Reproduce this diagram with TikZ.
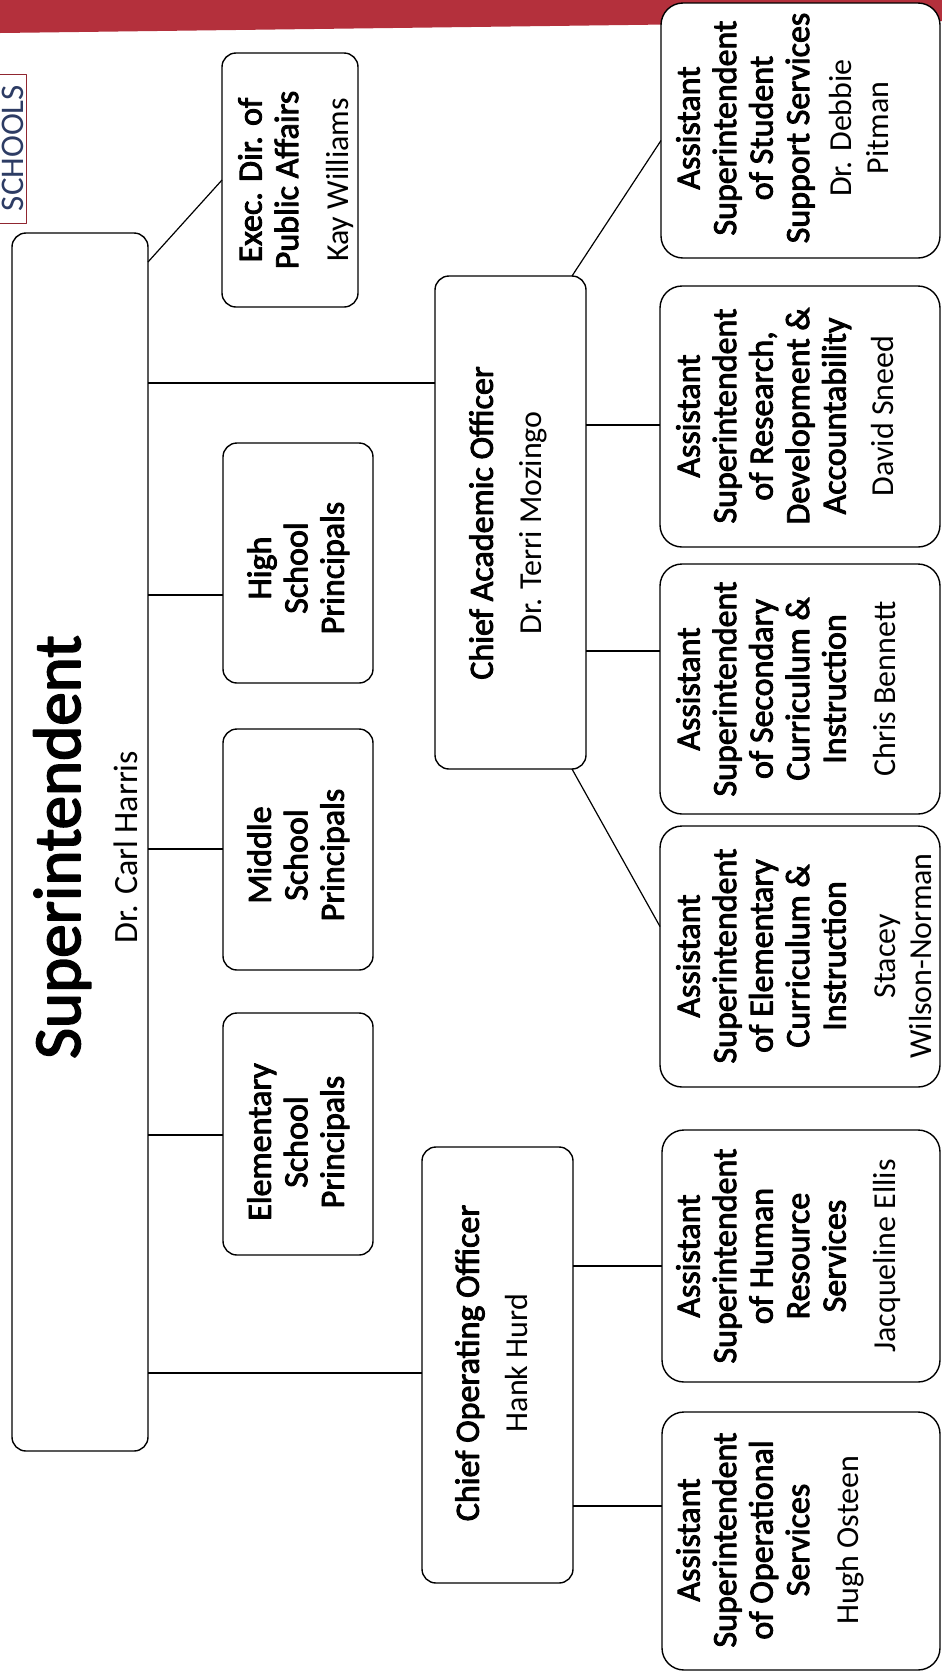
\documentclass[tikz,border=0pt]{standalone}
\usepackage{fontspec}
\setmainfont{Carlito}
\newfontfamily\semib{Carlito}[FakeBold=2.6]
\usetikzlibrary{calc}
\definecolor{bandred}{RGB}{180,48,60}
\definecolor{schoolblue}{RGB}{45,60,100}
\newcommand\pname[1]{{\normalfont\fontsize{32}{36.5}\selectfont #1}}
\tikzset{
  box/.style={draw=black, line width=1.4pt, rounded corners=14pt, fill=white, inner sep=0pt, outer sep=0pt},
  asbox/.style={box, rounded corners=22pt},
  conn/.style={draw=black, line width=1.2pt},
  ttl/.style={rotate=90, align=center, inner sep=0pt, anchor=north, font=\semib\fontsize{34}{36.5}\selectfont},
}
\begin{document}
\begin{tikzpicture}[x=1pt, y=-1pt, line join=round]
\useasboundingbox (0,0) rectangle (942,1674);
\clip (0,0) rectangle (942,1674);
\fill[white] (0,0) rectangle (942,1674);
% top band
\fill[bandred] (0,0) -- (942,0) -- (942,21) -- (0,33) -- cycle;
% SCHOOLS tag
\node[draw=bandred!80!black, line width=0.8pt, minimum width=30pt, minimum height=149pt, inner sep=0pt] (schoolsbox) at (11,148.5) {};
\node[rotate=90, anchor=base, inner sep=0pt, font=\fontsize{33}{33}\selectfont, text=schoolblue] (schools) at (23.5,148) {SCHOOLS};

% boxes
\node[box, minimum width=136pt, minimum height=1218pt] (sup) at (80,842) {};
\node[box, minimum width=136pt, minimum height=254pt] (exec) at (290,180) {};
\node[box, minimum width=150pt, minimum height=240pt] (high) at (298,563) {};
\node[box, minimum width=150pt, minimum height=241pt] (mid) at (298,849.5) {};
\node[box, minimum width=150pt, minimum height=242pt] (elemp) at (298,1134) {};
\node[box, minimum width=151pt, minimum height=493pt] (cao) at (510.5,522.5) {};
\node[box, minimum width=151pt, minimum height=436pt] (coo) at (497.5,1365) {};
\node[asbox, minimum width=279pt, minimum height=255pt] (student) at (800.5,130.5) {};
\node[asbox, minimum width=280pt, minimum height=261pt] (research) at (800,416.5) {};
\node[asbox, minimum width=280pt, minimum height=250pt] (secondary) at (800,689) {};
\node[asbox, minimum width=280pt, minimum height=261pt] (elemas) at (800,956.5) {};
\node[asbox, minimum width=278pt, minimum height=252pt] (hr) at (801,1256) {};
\node[asbox, minimum width=278pt, minimum height=258pt] (op) at (801,1541) {};

% texts
\node[rotate=90, anchor=base, inner sep=0pt, font=\semib\fontsize{67}{70}\selectfont] (suptitle) at (80,847) {Superintendent};
\node[rotate=90, anchor=base, inner sep=0pt, font=\fontsize{34}{36}\selectfont] (supname) at (137,847) {Dr. Carl Harris};
\node[ttl] (exect) at (238,180) {Exec. Dir. of\\Public Affairs\\[14pt]\pname{Kay Williams}};
\node[ttl] (hight) at (247,568) {High\\School\\Principals};
\node[ttl] (midt) at (247,855) {Middle\\School\\Principals};
\node[ttl] (elempt) at (247,1142) {Elementary\\School\\Principals};
\node[ttl] (caot) at (469,523) {Chief Academic Officer\\[12.5pt]\pname{Dr. Terri Mozingo}};
\node[ttl] (coot) at (455,1363) {Chief Operating Officer\\[12.5pt]\pname{Hank Hurd}};
\node[ttl] (studentt) at (676,128) {Assistant\\Superintendent\\of Student\\Support Services\\[6pt]\pname{Dr. Debbie}\\\pname{Pitman}};
\node[ttl] (researcht) at (676,416) {Assistant\\Superintendent\\of Research,\\Development \&\\Accountability\\[11pt]\pname{David Sneed}};
\node[ttl] (secondaryt) at (676,689) {Assistant\\Superintendent\\of Secondary\\Curriculum \&\\Instruction\\[13pt]\pname{Chris Bennett}};
\node[ttl] (elemast) at (676,956) {Assistant\\Superintendent\\of Elementary\\Curriculum \&\\Instruction\\[13pt]\pname{Stacey}\\\pname{Wilson-Norman}};
\node[ttl] (hrt) at (676,1256) {Assistant\\Superintendent\\of Human\\Resource\\Services\\[13pt]\pname{Jacqueline Ellis}};
\node[ttl] (opt) at (676,1540) {Assistant\\Superintendent\\of Operational\\Services\\[13pt]\pname{Hugh Osteen}};

% connector levels
\coordinate (yCAO) at (0,383);
\coordinate (yHigh) at (0,595);
\coordinate (yMid) at (0,849);
\coordinate (yElemP) at (0,1135);
\coordinate (yCOO) at (0,1373);
\coordinate (yRes) at (0,425);
\coordinate (ySec) at (0,651);
\coordinate (yHR) at (0,1266);
\coordinate (yOp) at (0,1506);

% connectors
\draw[conn] ($(sup.north east)+(0,29)$) -- (exec.west);
\draw[conn] (sup.east |- yCAO) -- (cao.west |- yCAO);
\draw[conn] (sup.east |- yHigh) -- (high.west |- yHigh);
\draw[conn] (sup.east |- yMid) -- (mid.west |- yMid);
\draw[conn] (sup.east |- yElemP) -- (elemp.west |- yElemP);
\draw[conn] (sup.east |- yCOO) -- (coo.west |- yCOO);
\draw[conn] ($(cao.north east)+(-14,0)$) -- ($(student.west)+(0,10)$);
\draw[conn] (cao.east |- yRes) -- (research.west |- yRes);
\draw[conn] (cao.east |- ySec) -- (secondary.west |- ySec);
\draw[conn] ($(cao.south east)+(-14,0)$) -- ($(elemas.west)+(0,-30)$);
\draw[conn] (coo.east |- yHR) -- (hr.west |- yHR);
\draw[conn] (coo.east |- yOp) -- (op.west |- yOp);
\end{tikzpicture}
\end{document}
